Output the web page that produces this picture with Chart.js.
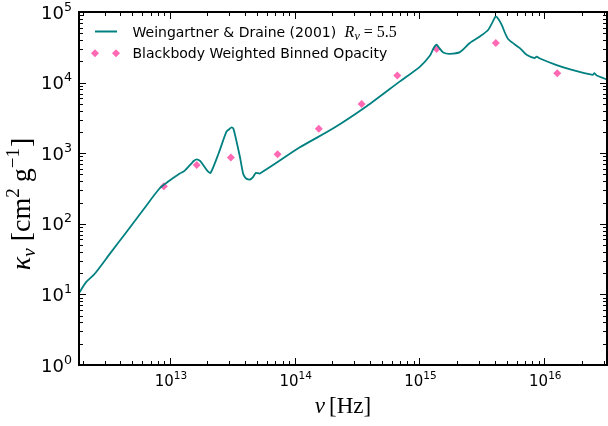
<!DOCTYPE html>
<html>
<head>
<meta charset="utf-8">
<script src="https://cdn.jsdelivr.net/npm/chart.js@4.4.1/dist/chart.umd.min.js"></script>
<style>
  html, body { margin: 0; padding: 0; background: #fff; }
  canvas { display: block; }
</style>
</head>
<body>
<canvas id="opacidad" width="608" height="426" style="width:608px;height:426px"></canvas>
<script>
// Weingartner & Draine (2001), Rv = 5.5
const nuLine = [1.87e12, 2.13e12, 2.50e12, 3.37e12, 4.54e12, 6.12e12, 8.26e12, 9.64e12, 1.20e13,
  1.31e13, 1.48e13, 1.56e13, 1.64e13, 1.74e13, 1.82e13, 2.00e13, 2.12e13, 2.46e13, 2.84e13,
  2.99e13, 3.12e13, 3.24e13, 3.64e13, 3.86e13, 4.03e13, 4.24e13, 4.45e13, 4.65e13, 4.89e13,
  5.26e13, 1.10e14, 2.04e14, 3.77e14, 6.97e14, 1.01e15, 1.21e15, 1.30e15, 1.37e15,
  1.45e15, 1.55e15, 1.75e15, 2.11e15, 2.53e15, 3.05e15, 3.56e15, 3.85e15, 4.09e15, 4.30e15,
  4.55e15, 5.13e15, 6.37e15, 7.21e15, 8.40e15, 8.67e15, 9.23e15, 1.24e16, 1.59e16, 2.44e16,
  2.52e16, 2.63e16, 3.25e16];
const kappaLine = [10.4, 14.9, 19.6, 39.4, 78.5, 158, 316, 393, 516,
  562, 708, 780, 817, 780, 708, 562, 527, 1000, 2014,
  2188, 2323, 2188, 889, 516, 447, 425, 430, 462, 527,
  516, 1210, 2250, 4620, 10400, 16870, 23990, 31000, 34360,
  30500, 26670, 25590, 27040, 36310, 45080, 56100, 72000, 86700, 79000,
  66070, 41400, 30830, 24720, 22230, 23390, 21930, 17820, 15490, 12850,
  13610, 12590, 10910];

// blackbody weighted binned opacity
const nuBins = [8.95e12, 1.64e13, 3.08e13, 7.29e13, 1.56e14, 3.44e14, 6.64e14, 1.37e15, 4.09e15, 1.27e16];
const kappaBins = [341, 678, 871, 970, 2228, 4990, 12600, 29800, 36300, 13600];

const xTickExps = [13, 14, 15, 16];
const yTickExps = [0, 1, 2, 3, 4, 5];

const lineColor = "#008080";
const dotColor = "#ff69b4";
const sans = "'DejaVu Sans'";
const serif = "'Liberation Serif'";

function partsWidth(ctx, parts) {
    let w = 0;
    for (const p of parts) { ctx.font = p[1]; w += ctx.measureText(p[0]).width + (p[3] || 0); }
    return w;
}
function drawParts(ctx, parts, x, y) {
    let cx = x;
    for (const p of parts) {
        ctx.font = p[1];
        ctx.fillText(p[0], cx, y + (p[2] || 0));
        cx += ctx.measureText(p[0]).width + (p[3] || 0);
    }
}
function powParts(e, size) {
    const s = size * 0.7;
    return [["10", size + "px " + sans, 0], [String(e), s + "px " + sans, -size * 0.45]];
}

function drawMinorMajor(ctx, scale, horizontal, area) {
    const lo = Math.floor(Math.log10(scale.min)), hi = Math.ceil(Math.log10(scale.max));
    ctx.beginPath();
    for (let d = lo; d <= hi; d++) {
        for (let m = 1; m < 10; m++) {
            const v = m * Math.pow(10, d);
            if (v < scale.min * 0.999 || v > scale.max * 1.001) continue;
            const p = Math.round(scale.getPixelForValue(v)) + 0.5;
            const len = m === 1 ? 7 : 4;
            if (horizontal) {
                ctx.moveTo(p, area.bottom); ctx.lineTo(p, area.bottom - len);
                ctx.moveTo(p, area.top); ctx.lineTo(p, area.top + len);
            } else {
                ctx.moveTo(area.left, p); ctx.lineTo(area.left + len, p);
                ctx.moveTo(area.right, p); ctx.lineTo(area.right - len, p);
            }
        }
    }
    ctx.stroke();
}

const decoracion = {
    id: "decoracion",
    afterDraw(chart) {
        const ctx = chart.ctx, a = chart.chartArea;
        const xs = chart.scales.x, ys = chart.scales.y;
        ctx.save();
        ctx.fillStyle = "#000";
        ctx.strokeStyle = "#000";

        // ticks, inward on all sides
        ctx.lineWidth = 1;
        drawMinorMajor(ctx, xs, true, a);
        drawMinorMajor(ctx, ys, false, a);

        // frame
        ctx.lineWidth = 2;
        ctx.strokeRect(a.left, a.top, a.right - a.left, a.bottom - a.top);

        // tick labels
        ctx.textBaseline = "alphabetic";
        ctx.textAlign = "left";
        for (const e of xTickExps) {
            const px = xs.getPixelForValue(Math.pow(10, e));
            const parts = powParts(e, 15);
            const w = partsWidth(ctx, parts);
            drawParts(ctx, parts, px - w / 2 + 1, 385.5);
        }
        for (const e of yTickExps) {
            const py = ys.getPixelForValue(Math.pow(10, e));
            const parts = powParts(e, 18);
            const w = partsWidth(ctx, parts);
            drawParts(ctx, parts, 72 - w, py + 6.6);
        }

        // axis titles
        const xt = [["\u03bd", "italic 23px " + serif, 0, 4], ["[Hz]", "23px " + serif, 0]];
        const xw = partsWidth(ctx, xt);
        drawParts(ctx, xt, 343 - xw / 2, 413);

        const yt = [["\u03ba", "italic 28px " + serif, 0], ["\u03bd", "italic 19px " + serif, 5, 7],
            ["[cm", "28px " + serif, 0], ["2", "19px " + serif, -11, 6], ["g", "28px " + serif, 0],
            ["\u22121", "19px " + serif, -11, 1], ["]", "28px " + serif, 0]];
        const yw = partsWidth(ctx, yt);
        ctx.translate(30, 204);
        ctx.rotate(-Math.PI / 2);
        drawParts(ctx, yt, -yw / 2, 0);
        ctx.restore();

        // legend
        ctx.save();
        ctx.strokeStyle = lineColor;
        ctx.lineWidth = 2;
        ctx.beginPath(); ctx.moveTo(95, 31.5); ctx.lineTo(117, 31.5); ctx.stroke();
        ctx.fillStyle = dotColor;
        for (const cx of [95, 116]) {
            ctx.beginPath();
            ctx.moveTo(cx, 49.3); ctx.lineTo(cx + 4, 53.3); ctx.lineTo(cx, 57.3); ctx.lineTo(cx - 4, 53.3);
            ctx.closePath(); ctx.fill();
        }
        ctx.fillStyle = "#000";
        ctx.textBaseline = "alphabetic";
        drawParts(ctx, [["Weingartner & Draine (2001) ", "14px " + sans, 0, 4],
            ["R", "italic 16px " + serif, 0], ["v", "italic 12px " + serif, 3, 4],
            ["= 5.5", "16px " + serif, 0]], 132.5, 36.6);
        drawParts(ctx, [["Blackbody Weighted Binned Opacity", "14px " + sans, 0]], 132.5, 58.3);
        ctx.restore();
    }
};

const lineData = nuLine.map((v, i) => ({ x: v, y: kappaLine[i] }));
const binData = nuBins.map((v, i) => ({ x: v, y: kappaBins[i] }));

new Chart(document.getElementById("opacidad").getContext("2d"), {
    type: "scatter",
    data: {
        datasets: [{
            label: "Weingartner & Draine (2001) Rv = 5.5",
            data: lineData,
            showLine: true,
            borderColor: lineColor,
            borderWidth: 1.8,
            pointRadius: 0,
            tension: 0.25,
            fill: false
        }, {
            label: "Blackbody Weighted Binned Opacity",
            data: binData,
            showLine: false,
            pointStyle: "rectRot",
            pointRadius: 4,
            borderWidth: 0,
            backgroundColor: dotColor,
            borderColor: dotColor
        }]
    },
    options: {
        responsive: false,
        animation: false,
        layout: { autoPadding: false, padding: { left: 79, right: 1, top: 12, bottom: 61 } },
        plugins: { legend: { display: false }, tooltip: { enabled: false } },
        scales: {
            x: { type: "logarithmic", min: 1.87e12, max: 3.18e16, display: false },
            y: { type: "logarithmic", min: 1, max: 1e5, display: false }
        }
    },
    plugins: [decoracion]
});
</script>
</body>
</html>
